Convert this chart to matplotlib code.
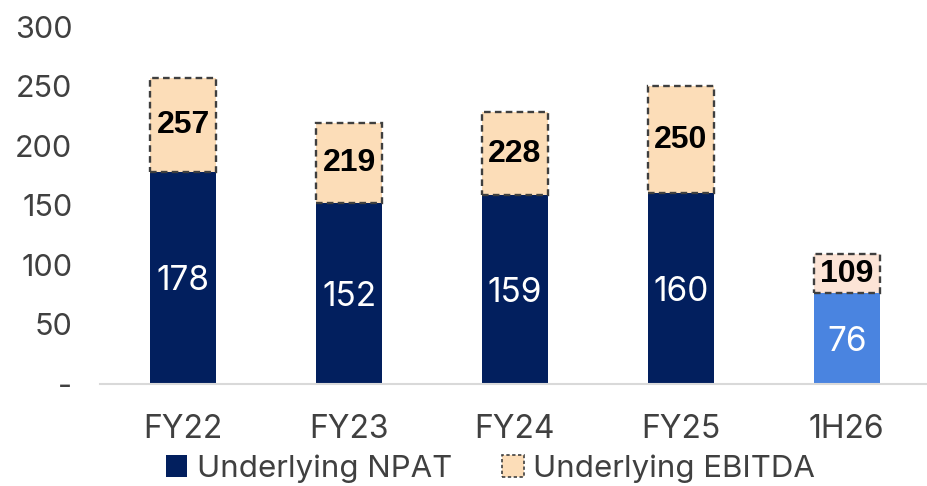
import matplotlib.pyplot as plt
from matplotlib.patches import Patch
import numpy as np

# Data
periods = ["FY22", "FY23", "FY24", "FY25", "1H26"]
npat = [178, 152, 159, 160, 76]
ebitda = [257, 219, 228, 250, 109]
npat_colors = ["#021F5E", "#021F5E", "#021F5E", "#021F5E", "#4A84E0"]
ebitda_colors = ["#FCDDB8", "#FCDDB8", "#FCDDB8", "#FCDDB8", "#FCE4D6"]
y_ticks = [0, 50, 100, 150, 200, 250, 300]
y_tick_labels = ["-", "50", "100", "150", "200", "250", "300"]

plt.rcParams["font.family"] = ["Inter", "DejaVu Sans"]

fig = plt.figure(figsize=(9.27, 4.86), dpi=100)
ax = fig.add_axes([0.108, 0.21, 0.895, 0.735])

x = np.arange(len(periods))
width = 0.40
gap = np.array(ebitda) - np.array(npat)

# NPAT bars
ax.bar(x, npat, width, color=npat_colors, edgecolor="none", zorder=2)
# EBITDA shown as the dashed box above NPAT, reaching the EBITDA total
ax.bar(x, gap, width, bottom=npat, color=ebitda_colors, edgecolor="#3F3F3F",
       linewidth=1.7, linestyle=(0, (2.8, 1.8)), zorder=3)

for xi, n, e in zip(x, npat, ebitda):
    ax.text(xi, n / 2, str(n), ha="center", va="center_baseline",
            color="white", fontsize=24, zorder=4)
    ax.text(xi, (n + e) / 2, str(e), ha="center", va="center", color="black",
            fontsize=23, fontweight="bold", family=["Liberation Sans"], zorder=4)

ax.set_xlim(-0.5, len(periods) - 0.5)
ax.set_ylim(0, 300)
ax.set_yticks(y_ticks)
ax.set_yticklabels(y_tick_labels)
ax.set_xticks(x)
ax.set_xticklabels(periods)
ax.tick_params(axis="both", length=0, labelcolor="#404040")
ax.tick_params(axis="x", pad=22, labelsize=23)
ax.tick_params(axis="y", pad=20, labelsize=22)

for side in ["top", "right", "left"]:
    ax.spines[side].set_visible(False)
ax.spines["bottom"].set_color("#D9D9D9")
ax.spines["bottom"].set_linewidth(1.5)

handles = [
    Patch(facecolor="#021F5E", edgecolor="none", label="Underlying NPAT"),
    Patch(facecolor="#FCDDB8", edgecolor="#404040", linestyle=(0, (2, 1.5)),
          linewidth=1.2, label="Underlying EBITDA"),
]
fig.legend(handles=handles, loc="center", bbox_to_anchor=(0.529, 0.035),
           ncol=2, frameon=False, fontsize=22.5, handlelength=0.7,
           handleheight=0.7, handletextpad=0.3, columnspacing=1.6,
           labelcolor="#404040")

fig.savefig("out.png", dpi=100)
